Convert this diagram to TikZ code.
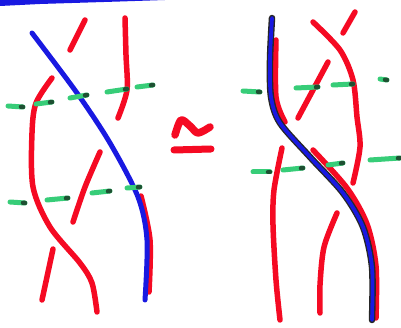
\documentclass[tikz,border=0pt]{standalone}
\usetikzlibrary{calc}
\definecolor{bred}{RGB}{245,10,35}
\definecolor{bblue}{RGB}{25,25,225}
\definecolor{bgreen}{RGB}{55,205,120}
\definecolor{dgreen}{RGB}{30,80,50}
\begin{document}
\begin{tikzpicture}[x=1pt,y=-1pt,line cap=round,line join=round,
  redstrand/.style={draw=bred,line width=5.5pt},
  bluestrand/.style={draw=bblue,line width=5pt},
  greendash/.style={draw=bgreen,line width=5pt},
  outline/.style={draw=black!85,line width=6.5pt}]
\fill[white] (0,0) rectangle (401,328);
\useasboundingbox (0,0) rectangle (401,328);
% top blue bar
\fill[bblue] (0,0) -- (165,0) -- (120,1.5) -- (40,4) -- (0,6) -- cycle;
% ===== left panel =====
\draw[redstrand] plot[smooth] coordinates {(141,196) (150,240) (149,292)};
\draw[redstrand] (85,20) -- (70,50);
\draw[redstrand] plot[smooth] coordinates {(125,18) (126,55) (127,90) (118,118)};
\draw[redstrand] plot[smooth] coordinates {(52,78) (36,103) (32,133) (33,187) (50,227) (80,263) (92,283) (97,312)};
\draw[redstrand] plot[smooth] coordinates {(100,152) (85,187) (73,222)};
\draw[redstrand] (53,249) -- (42,300);
\draw[bluestrand] plot[smooth] coordinates {(32,33) (77,93) (110,143) (138,197) (147,240) (145,300)};
% ===== equivalence sign =====
\draw[bred,line width=7.5pt] plot[smooth] coordinates {(175,135) (181,120) (190,126) (198,133) (210,127)};
\draw[bred,line width=7pt] (174,150) -- (211,149);
% ===== right panel =====
\draw[redstrand] plot[smooth] coordinates {(276,40) (276,97) (285,122)};
\draw[redstrand] plot[smooth] coordinates {(313,150) (347,188) (367,224) (376,266) (376,318)};
\draw[redstrand] (355,12) -- (343,33);
\draw[redstrand] plot[smooth] coordinates {(313,22) (340,50) (353,80) (357,117) (360,147) (353,183)};
\draw[redstrand] (328,62) -- (298,118);
\draw[redstrand] plot[smooth] coordinates {(282,148) (274,190) (273,225) (276,280) (280,320)};
\draw[redstrand] plot[smooth] coordinates {(337,213) (324,247) (320,285) (320,313)};
\draw[outline] plot[smooth] coordinates {(272,18) (270,60) (271,97) (280,123) (310,157) (343,193) (363,227) (372,267) (372,320)};
\draw[bluestrand,line width=3.8pt] plot[smooth] coordinates {(272,18) (270,60) (271,97) (280,123) (310,157) (343,193) (363,227) (372,267) (372,320)};
% ===== green dashes (dark right ends) =====
\foreach \ax/\ay/\bx/\by in {
  8/106/23/107, 36/104/52/102, 70/98/87/95, 107/92/127/89, 137/87/153/85,
  10/202/25/203, 47/200/68/198, 92/193/110/191, 127/188/140/187,
  243/91/260/92, 296/88/318/87, 333/85/353/84, 380/79/387/80,
  253/172/270/172, 283/170/303/168, 328/165/343/163, 370/160/400/158}{
  \draw[greendash] (\ax,\ay) -- (\bx,\by);
  \draw[dgreen,line width=4.5pt] ($(\bx,\by)!2pt!(\ax,\ay)$) -- (\bx,\by);
}
\end{tikzpicture}
\end{document}
